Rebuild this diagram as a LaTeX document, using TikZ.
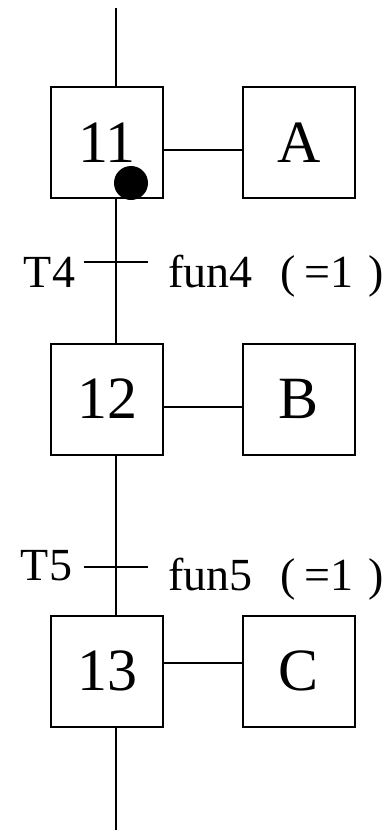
\documentclass[tikz,border=0pt]{standalone}
\usepackage{fontspec}
\setmainfont{Liberation Serif}
\usetikzlibrary{positioning, calc}
\tikzset{
  stepbox/.style={draw, line width=2pt, minimum width=112pt, minimum height=111pt, inner sep=0pt, font=\fontsize{60}{66}\selectfont},
  actbox/.style={stepbox},
  link/.style={draw, line width=2pt},
  tick/.style={draw, line width=2pt},
  token/.style={circle, fill=black, minimum size=34pt, inner sep=0pt},
  lbl/.style={inner sep=0pt, font=\fontsize{46}{52}\selectfont},
}
\begin{document}
\begin{tikzpicture}[x=1pt, y=-1pt, line width=2pt]
  \useasboundingbox (0,0) rectangle (390,836);
  % steps and actions
  \node[stepbox] (s11) at (107,142.5) {11};
  \node[actbox]  (a11) at (299,142.5) {A};
  \node[stepbox] (s12) at (107,399)   {12};
  \node[actbox]  (a12) at (299,399)   {B};
  \node[stepbox] (s13) at (107,671)   {13};
  \node[actbox]  (a13) at (299,671)   {C};
  \node[token]   (tok) at (131,183)   {};
  % the line of steps
  \coordinate (top) at (115.5,8);
  \coordinate (bot) at (115.5,830);
  \coordinate (t4)  at (115.5,262);
  \coordinate (t5)  at (115.5,567);
  \draw[link] (top) -- (top |- s11.north);
  \draw[link] (s11.south -| top) -- (s12.north -| top);
  \draw[link] (s12.south -| top) -- (s13.north -| top);
  \draw[link] (s13.south -| top) -- (bot);
  \draw[link] ([yshift=-7.5pt]s11.east) -- ([yshift=-7.5pt]a11.west);
  \draw[link] ([yshift=-8pt]s12.east) -- ([yshift=-8pt]a12.west);
  \draw[link] ([yshift=8pt]s13.east) -- ([yshift=8pt]a13.west);
  % transitions
  \draw[tick] ([xshift=-32pt]t4) -- ([xshift=32pt]t4);
  \draw[tick] ([xshift=-32pt]t5) -- ([xshift=32pt]t5);
  \node[lbl, anchor=base east] (n4) at (76,287) {T4};
  \node[lbl, anchor=base west] (f4) at (167,287) {fun4\hspace{28pt}(\hspace{9pt}=1\hspace{15pt})};
  \node[lbl, anchor=base east] (n5) at (73,580) {T5};
  \node[lbl, anchor=base west] (f5) at (167,590) {fun5\hspace{28pt}(\hspace{9pt}=1\hspace{15pt})};
\end{tikzpicture}
\end{document}
